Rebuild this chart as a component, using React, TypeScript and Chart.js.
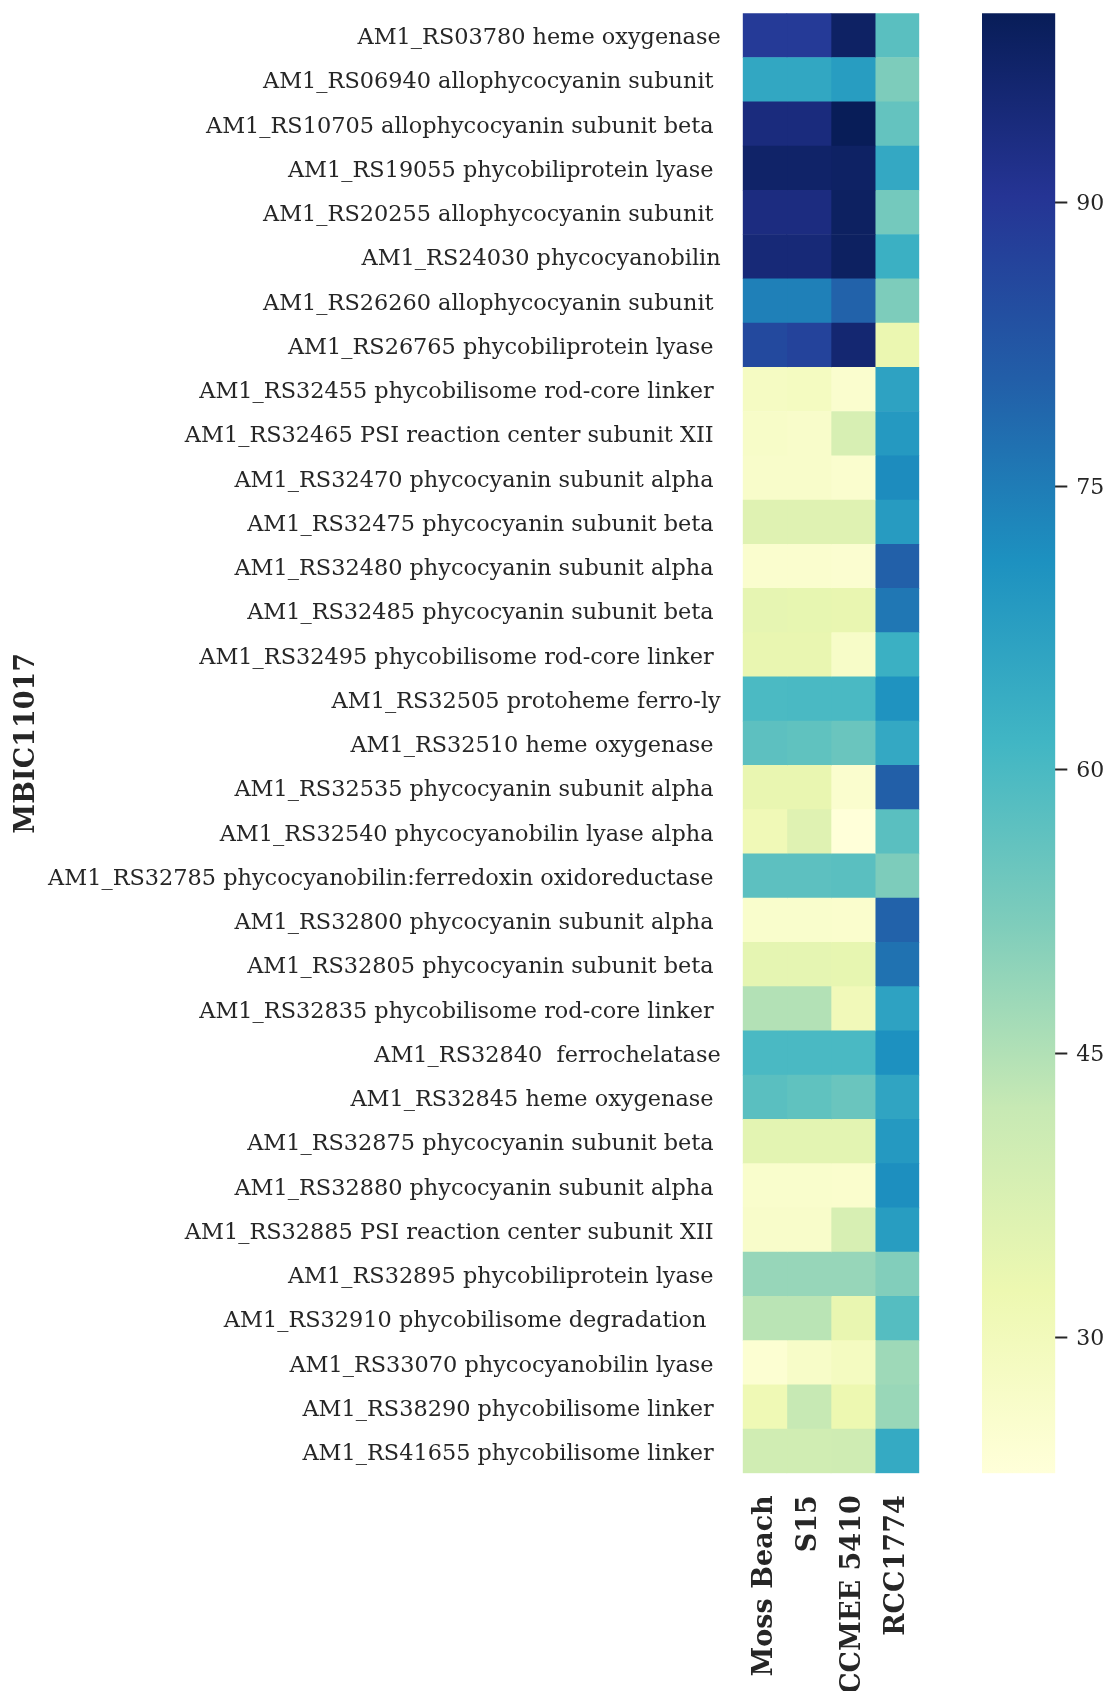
import React, { useEffect, useRef } from "react";
import { Chart, registerables } from "chart.js";

Chart.register(...registerables);

// ---- data ----
const strains = ["Moss Beach", "S15", "CCMEE 5410", "RCC1774"];

const genes = [
  "AM1_RS03780 heme oxygenase",
  "AM1_RS06940 allophycocyanin subunit ",
  "AM1_RS10705 allophycocyanin subunit beta ",
  "AM1_RS19055 phycobiliprotein lyase ",
  "AM1_RS20255 allophycocyanin subunit ",
  "AM1_RS24030 phycocyanobilin",
  "AM1_RS26260 allophycocyanin subunit ",
  "AM1_RS26765 phycobiliprotein lyase ",
  "AM1_RS32455 phycobilisome rod-core linker ",
  "AM1_RS32465 PSI reaction center subunit XII ",
  "AM1_RS32470 phycocyanin subunit alpha ",
  "AM1_RS32475 phycocyanin subunit beta ",
  "AM1_RS32480 phycocyanin subunit alpha ",
  "AM1_RS32485 phycocyanin subunit beta ",
  "AM1_RS32495 phycobilisome rod-core linker ",
  "AM1_RS32505 protoheme ferro-ly",
  "AM1_RS32510 heme oxygenase ",
  "AM1_RS32535 phycocyanin subunit alpha ",
  "AM1_RS32540 phycocyanobilin lyase alpha ",
  "AM1_RS32785 phycocyanobilin:ferredoxin oxidoreductase ",
  "AM1_RS32800 phycocyanin subunit alpha ",
  "AM1_RS32805 phycocyanin subunit beta ",
  "AM1_RS32835 phycobilisome rod-core linker ",
  "AM1_RS32840  ferrochelatase",
  "AM1_RS32845 heme oxygenase ",
  "AM1_RS32875 phycocyanin subunit beta ",
  "AM1_RS32880 phycocyanin subunit alpha ",
  "AM1_RS32885 PSI reaction center subunit XII ",
  "AM1_RS32895 phycobiliprotein lyase ",
  "AM1_RS32910 phycobilisome degradation  ",
  "AM1_RS33070 phycocyanobilin lyase ",
  "AM1_RS38290 phycobilisome linker ",
  "AM1_RS41655 phycobilisome linker ",
];

const mossBeach = [89, 65.4, 94, 97.5, 93.5, 95, 74.3, 85.5, 28, 27, 26.5, 36, 25.5, 34.3, 33.5, 59.8, 57, 33.5, 31, 57, 26, 34.5, 44.8, 60, 57.5, 35, 26, 26.5, 48.6, 43.9, 24.5, 31.5, 39.8];
const s15 = [89, 65.4, 94, 97.5, 93.5, 95, 74.3, 87, 28.5, 26.5, 26.5, 36, 25.5, 34, 33.5, 60, 56.5, 33.5, 36, 57, 26, 34.5, 44.8, 60, 56.5, 35, 26, 26.5, 48.6, 43.9, 27, 42, 39.8];
const ccmee5410 = [98, 68, 100, 98, 98.5, 98.5, 80, 96, 25.5, 38, 25.5, 36, 25, 33.5, 27, 60, 55, 25.5, 22.8, 57.5, 25.7, 34, 30.5, 60, 55, 35, 25.7, 38, 48.6, 33.5, 28.5, 32.5, 40];
const rcc1774 = [57.5, 52, 56, 65, 53.5, 63, 52, 33, 66.5, 69, 72, 68.5, 80.3, 76, 63, 70.5, 65, 80.5, 57.5, 52, 80, 77, 66.5, 71, 66, 69, 71.5, 68, 51.3, 58.3, 47.6, 48.2, 64.5];

const colorbarTicks = [30, 45, 60, 75, 90];
const vmin = 22.8;
const vmax = 100;
const yAxisTitle = "MBIC11017";

// ---- style ----
const FONT = "'DejaVu Serif', serif";
const TEXT = "#262626";
const YLGNBU = [
  [255, 255, 217],
  [237, 248, 177],
  [199, 233, 180],
  [127, 205, 187],
  [65, 182, 196],
  [29, 145, 192],
  [34, 94, 168],
  [37, 52, 148],
  [8, 29, 88],
];

function cmap(v: number): string {
  let t = (v - vmin) / (vmax - vmin);
  t = Math.max(0, Math.min(1, t));
  const p = t * 8;
  const i = Math.min(7, Math.floor(p));
  const f = p - i;
  const a = YLGNBU[i];
  const b = YLGNBU[i + 1];
  const c = [0, 1, 2].map((k) => Math.round(a[k] + (b[k] - a[k]) * f));
  return `rgb(${c[0]},${c[1]},${c[2]})`;
}

const W = 1106;
const H = 1691;
const MAIN_W = 940;
const PLOT_LEFT = 742.7;
const PLOT_RIGHT = 919.3;
const PLOT_TOP = 13.3;
const PLOT_BOTTOM = 1473.3;
const CB_LEFT = 982;
const CB_RIGHT = 1055.3;

function zeroPadding(scale: any) {
  scale.paddingTop = 0;
  scale.paddingBottom = 0;
  scale.paddingLeft = 0;
  scale.paddingRight = 0;
}

export default function App() {
  const mainRef = useRef<HTMLCanvasElement | null>(null);
  const cbRef = useRef<HTMLCanvasElement | null>(null);

  useEffect(() => {
    const series = [mossBeach, s15, ccmee5410, rcc1774];
    const main = new Chart(mainRef.current as HTMLCanvasElement, {
      type: "bar",
      data: {
        labels: genes,
        datasets: series.map((vals, j) => ({
          label: strains[j],
          data: vals.map(() => [j, j + 1]) as any,
          backgroundColor: vals.map((v) => cmap(v)),
          borderWidth: 0,
          barPercentage: 1,
          categoryPercentage: 1,
          grouped: false,
        })),
      },
      options: {
        indexAxis: "y",
        responsive: false,
        animation: false,
        events: [],
        layout: {
          padding: { top: PLOT_TOP, left: 0, right: MAIN_W - PLOT_RIGHT, bottom: 0 },
        },
        plugins: { legend: { display: false }, tooltip: { enabled: false } },
        scales: {
          x: {
            type: "linear",
            min: 0,
            max: 4,
            position: "bottom",
            grid: { display: false, drawTicks: false },
            border: { display: false },
            afterBuildTicks: (scale: any) => {
              scale.ticks = strains.map((_, i) => ({ value: i + 0.5 }));
            },
            afterFit: (scale: any) => {
              scale.height = H - PLOT_BOTTOM;
              zeroPadding(scale);
            },
            ticks: {
              autoSkip: false,
              minRotation: 90,
              maxRotation: 90,
              padding: 22,
              color: TEXT,
              font: { family: FONT, size: 27, weight: "bold" },
              callback: (v: any) => strains[Math.floor(Number(v))],
            },
          },
          y: {
            type: "category",
            grid: { display: false, drawTicks: false },
            border: { display: false },
            afterFit: (scale: any) => {
              scale.width = PLOT_LEFT;
              zeroPadding(scale);
            },
            ticks: {
              autoSkip: false,
              padding: 22,
              labelOffset: 3,
              color: TEXT,
              font: { family: FONT, size: 22.4 },
            },
            title: {
              display: true,
              text: yAxisTitle,
              color: TEXT,
              font: { family: FONT, size: 27, weight: "bold" },
              padding: { top: 11, bottom: 0 },
            },
          },
        },
      },
    });

    const cb = new Chart(cbRef.current as HTMLCanvasElement, {
      type: "bar",
      data: {
        labels: ["colorbar"],
        datasets: [
          {
            data: [[vmin, vmax]] as any,
            backgroundColor: (ctx: any) => {
              const area = ctx.chart.chartArea;
              if (!area) return "#ffffff";
              const g = ctx.chart.ctx.createLinearGradient(0, area.bottom, 0, area.top);
              YLGNBU.forEach((c, i) => g.addColorStop(i / 8, `rgb(${c[0]},${c[1]},${c[2]})`));
              return g;
            },
            borderWidth: 0,
            barPercentage: 1,
            categoryPercentage: 1,
          },
        ],
      },
      options: {
        responsive: false,
        animation: false,
        events: [],
        layout: {
          padding: { top: PLOT_TOP, left: CB_LEFT - MAIN_W, right: 0, bottom: H - PLOT_BOTTOM },
        },
        plugins: { legend: { display: false }, tooltip: { enabled: false } },
        scales: {
          x: { display: false },
          y: {
            type: "linear",
            position: "right",
            min: vmin,
            max: vmax,
            border: { display: false },
            grid: {
              display: true,
              drawOnChartArea: false,
              drawTicks: true,
              tickLength: 12,
              tickColor: TEXT,
              tickWidth: 2,
            },
            afterBuildTicks: (scale: any) => {
              scale.ticks = colorbarTicks.map((v) => ({ value: v }));
            },
            afterFit: (scale: any) => {
              scale.width = W - CB_RIGHT;
              zeroPadding(scale);
            },
            ticks: {
              padding: 9,
              labelOffset: 2,
              color: TEXT,
              font: { family: FONT, size: 22 },
              callback: (v: any) => String(v),
            },
          },
        },
      },
    });

    return () => {
      main.destroy();
      cb.destroy();
    };
  }, []);

  return (
    <div style={{ position: "absolute", left: 0, top: 0, width: W, height: H, background: "#ffffff", overflow: "hidden" }}>
      <canvas ref={mainRef} width={MAIN_W} height={H} style={{ position: "absolute", left: 0, top: 0, width: MAIN_W, height: H }} />
      <canvas ref={cbRef} width={W - MAIN_W} height={H} style={{ position: "absolute", left: MAIN_W, top: 0, width: W - MAIN_W, height: H }} />
    </div>
  );
}
